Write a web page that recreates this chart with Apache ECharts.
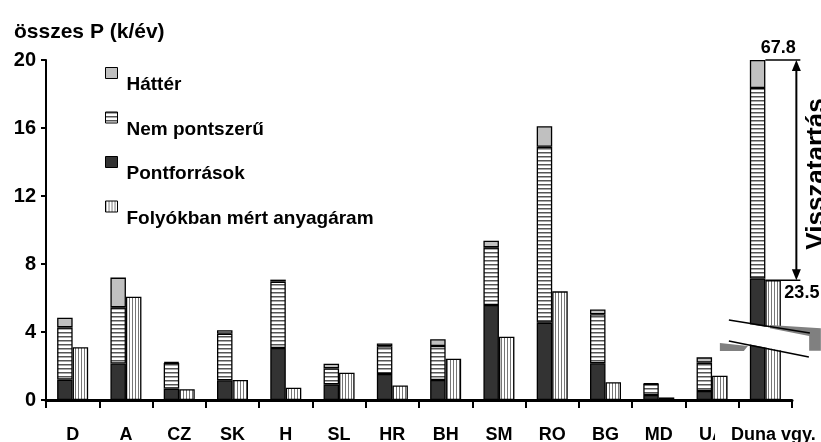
<!DOCTYPE html>
<html><head><meta charset="utf-8">
<script src="https://cdn.jsdelivr.net/npm/echarts@6/dist/echarts.min.js"></script>
<style>html,body{margin:0;padding:0;background:#fff}#c{width:821px;height:442px}</style>
</head><body><div id="c"></div>
<script>
const categories = ['D','A','CZ','SK','H','SL','HR','BH','SM','RO','BG','MD','UA','Duna vgy.'];
const pontforrasok = [1.2, 2.15, 0.67, 1.16, 3.06, 0.92, 1.53, 1.18, 5.59, 4.55, 2.16, 0.29, 0.53, 7.15];
const nemPontszeru = [3.07, 3.3, 1.51, 2.74, 3.9, 0.94, 1.63, 2.0, 3.39, 10.35, 2.88, 0.65, 1.67, 11.2];
const hatter = [0.57, 1.75, 0.05, 0.2, 0.12, 0.27, 0.17, 0.39, 0.39, 1.2, 0.29, 0.03, 0.31, 1.65];
const meres = [3.1, 6.08, 0.63, 1.18, 0.72, 1.6, 0.86, 2.43, 3.72, 6.39, 1.04, 0.15, 1.43, 7.05];
const yTicks = [0, 4, 8, 12, 16, 20];
const dunaLabels = ['67.8', '23.5'];
const arrowText = 'Visszatartás';

function stripes(horizontal) {
  const c = document.createElement('canvas');
  const p = horizontal ? 4 : 3;
  c.width = p; c.height = p;
  const g = c.getContext('2d');
  g.fillStyle = '#fff'; g.fillRect(0, 0, p, p);
  if (horizontal) {
    g.fillStyle = '#555'; g.fillRect(0, 0, p, 1);
    g.fillStyle = '#aaa'; g.fillRect(0, 1, p, 1);
  } else {
    g.fillStyle = '#777'; g.fillRect(0, 0, 1, p);
  }
  return { image: c, repeat: 'repeat' };
}
const FONT = 'Liberation Sans, Arial, sans-serif';
const chart = echarts.init(document.getElementById('c'), null, { renderer: 'canvas' });
const border = { borderColor: '#000', borderWidth: 1.3 };
const opt = {
  animation: false,
  title: { text: 'összes P (k/év)', left: 9, top: 17, textStyle: { fontFamily: FONT, fontWeight: 'bold', fontSize: 21, color: '#000' } },
  grid: { left: 46, right: 29, top: 60, bottom: 42, outerBoundsMode: 'none', containLabel: false },
  legend: {
    orient: 'vertical', left: 100, top: 62, itemWidth: 12, itemHeight: 11, itemGap: 17, icon: 'rect',
    data: ['Háttér', 'Nem pontszerű', 'Pontforrások', 'Folyókban mért anyagáram'],
    formatter: function (n) { return '{t|' + n + '}'; },
    textStyle: { rich: { t: { fontFamily: FONT, fontWeight: 'bold', fontSize: 19, color: '#000', padding: [24, 0, 0, 4] } } },
    itemStyle: { borderColor: '#000', borderWidth: 1 }
  },
  xAxis: {
    type: 'category', data: categories,
    axisLine: { lineStyle: { color: '#000', width: 3 } },
    axisTick: { show: true, length: 8, lineStyle: { color: '#000', width: 2 } },
    axisLabel: {
      interval: 0, margin: 26, color: '#000', fontFamily: FONT, fontWeight: 'bold', fontSize: 18,
      formatter: function (v) { return v === 'Duna vgy.' ? '{d|' + v + '}' : v; },
      rich: { d: { backgroundColor: '#fff', padding: [0, 0, 0, 16], fontFamily: FONT, fontWeight: 'bold', fontSize: 18, color: '#000' } }
    }
  },
  yAxis: {
    type: 'value', min: 0, max: 20, interval: 4,
    axisLine: { show: true, lineStyle: { color: '#000', width: 2 } },
    axisTick: { show: true, length: 5, lineStyle: { color: '#000', width: 2 } },
    splitLine: { show: false },
    axisLabel: { margin: 10, color: '#000', fontFamily: FONT, fontWeight: 'bold', fontSize: 20,
      formatter: function (v) { return yTicks.indexOf(v) >= 0 ? String(v) : ''; } }
  },
  series: [
    { name: 'Pontforrások', type: 'bar', stack: 'a', data: pontforrasok, barWidth: 15.5, barGap: '0%',
      itemStyle: Object.assign({ color: '#333' }, border) },
    { name: 'Nem pontszerű', type: 'bar', stack: 'a', data: nemPontszeru, barWidth: 15.5, barGap: '0%',
      itemStyle: Object.assign({ color: stripes(true) }, border) },
    { name: 'Háttér', type: 'bar', stack: 'a', data: hatter, barWidth: 15.5, barGap: '0%',
      itemStyle: Object.assign({ color: '#c0c0c0' }, border) },
    { name: 'Folyókban mért anyagáram', type: 'bar', data: meres, barWidth: 15.5, barGap: '0%',
      itemStyle: Object.assign({ color: stripes(false) }, border) }
  ]
};
chart.setOption(opt);

const last = categories.length - 1;
const total = pontforrasok[last] + nemPontszeru[last] + hatter[last];
const xC = chart.convertToPixel({ xAxisIndex: 0 }, categories[last]);
const yTop = chart.convertToPixel({ yAxisIndex: 0 }, total);
const yMeas = chart.convertToPixel({ yAxisIndex: 0 }, meres[last]);
const yb = chart.convertToPixel({ yAxisIndex: 0 }, 4.1);
const ax = xC + 31;
const blk = { stroke: '#000', lineWidth: 1.5 };
function poly(pts, fill) {
  return { type: 'polygon', z: 100, shape: { points: pts.map(p => [xC + p[0], yb + p[1]]) }, style: { fill: fill, stroke: null } };
}
const g = [
  poly([[-22, -7], [40, 3], [40, 25], [-22, 13]], '#fff'),
  poly([[4.5, -5.3], [55.5, -2], [55.5, 20.4], [43.8, 20.4], [43.8, 5.7], [4.5, -2]], '#808080'),
  poly([[-45.5, 12.7], [-17.5, 15.7], [-21.5, 20.7], [-45.5, 20.7]], '#808080'),
  { type: 'line', z: 101, shape: { x1: xC - 36.5, y1: yb - 10.3, x2: xC + 44.5, y2: yb + 2.7 }, style: blk },
  { type: 'line', z: 101, shape: { x1: xC - 36.5, y1: yb + 10.7, x2: xC + 43.5, y2: yb + 26.7 }, style: blk },
  { type: 'line', z: 101, shape: { x1: xC, y1: yTop, x2: ax + 4, y2: yTop }, style: blk },
  { type: 'line', z: 101, shape: { x1: xC, y1: yMeas, x2: ax + 4, y2: yMeas }, style: blk },
  { type: 'line', z: 101, shape: { x1: ax, y1: yTop + 8, x2: ax, y2: yMeas - 8 }, style: { stroke: '#000', lineWidth: 2 } },
  { type: 'polygon', z: 101, shape: { points: [[ax, yTop], [ax - 4.5, yTop + 11], [ax + 4.5, yTop + 11]] }, style: { fill: '#000' } },
  { type: 'polygon', z: 101, shape: { points: [[ax, yMeas], [ax - 4.5, yMeas - 11], [ax + 4.5, yMeas - 11]] }, style: { fill: '#000' } },
  { type: 'text', z: 101, x: xC + 13, y: yTop - 12, style: { text: dunaLabels[0], fill: '#000', font: 'bold 18px ' + FONT, align: 'center', verticalAlign: 'middle' } },
  { type: 'text', z: 101, x: xC + 19, y: yMeas + 13, style: { text: dunaLabels[1], fill: '#000', font: 'bold 18px ' + FONT, align: 'left', verticalAlign: 'middle' } },
  { type: 'text', z: 101, x: xC + 51, y: 174, rotation: Math.PI / 2, style: { text: arrowText, fill: '#000', font: 'bold 26px ' + FONT, align: 'center', verticalAlign: 'middle' } }
];
chart.setOption({ graphic: { elements: g } });
</script></body></html>
